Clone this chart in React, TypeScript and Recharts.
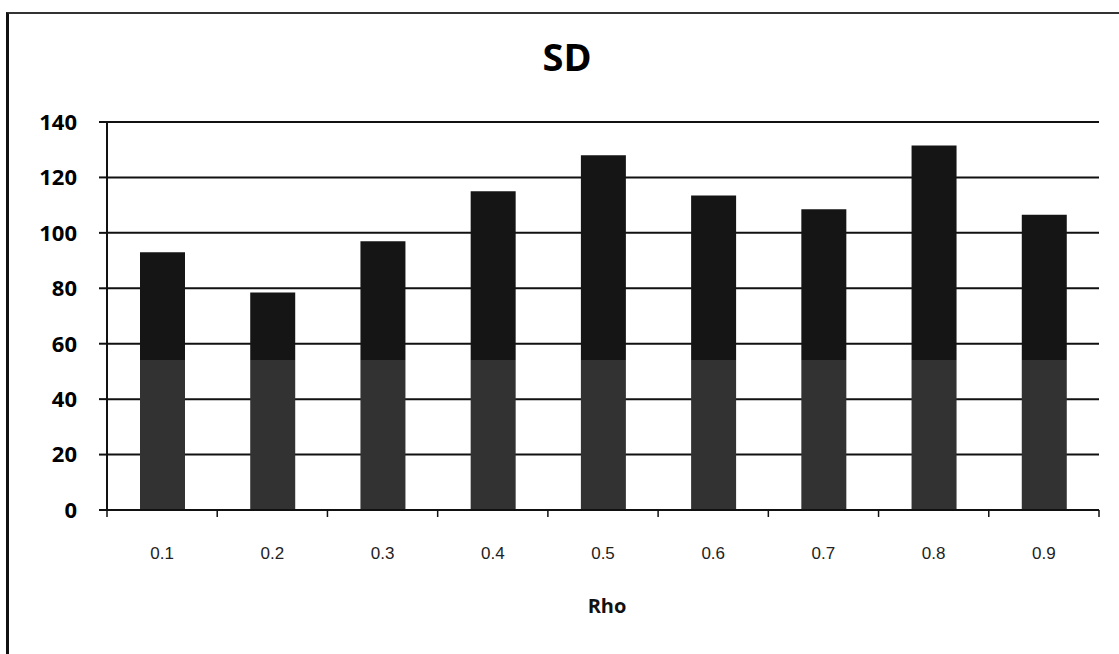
import React from 'react';
import { ComposedChart, Bar, XAxis, YAxis, CartesianGrid, Cell } from 'recharts';

const categories = ['0.1', '0.2', '0.3', '0.4', '0.5', '0.6', '0.7', '0.8', '0.9'];
const sdValues = [93, 78.5, 97, 115, 128, 113.5, 108.5, 131.5, 106.5];
const yTicks = [0, 20, 40, 60, 80, 100, 120, 140];
const shadeLevel = 54.2;
const chartTitle = 'SD';
const xTitle = 'Rho';

const data = categories.map((c, i) => ({ rho: c, sd: sdValues[i], pos: i + 0.5 }));
const xTicks: number[] = [];
for (let i = 0; i <= categories.length * 2; i++) xTicks.push(i * 0.5);

const DARK = '#151515';
const LIGHT = '#323232';

const XTick = (props: any) => {
  const { x, y, payload } = props;
  const v = payload.value as number;
  if (Number.isInteger(v)) {
    return <line x1={x} x2={x} y1={y} y2={y + 7} stroke="#111" strokeWidth={1.5} />;
  }
  const idx = Math.floor(v);
  return (
    <text
      x={x}
      y={y + 43}
      textAnchor="middle"
      dominantBaseline="central"
      fontFamily="'Liberation Sans', Arial, sans-serif"
      fontSize={17}
      fill="#222"
    >
      {categories[idx]}
    </text>
  );
};

export default function App() {
  return (
    <div style={{ position: 'fixed', left: 0, top: 0, width: 1119, height: 654, overflow: 'hidden', background: '#fff' }}>
      <div
        style={{
          position: 'absolute',
          left: 6,
          top: 12,
          width: 1300,
          height: 900,
          borderLeft: '3px solid #111',
          borderTop: '2px solid #333',
        }}
      />
      <div
        style={{
          position: 'absolute',
          left: 467,
          top: 37,
          width: 200,
          textAlign: 'center',
          fontFamily: "'Open Sans', sans-serif",
          fontWeight: 700,
          fontSize: 38,
          lineHeight: 1,
          color: '#000',
        }}
      >
        {chartTitle}
      </div>
      <div
        style={{
          position: 'absolute',
          left: 507,
          top: 596,
          width: 200,
          textAlign: 'center',
          fontFamily: "'Open Sans', sans-serif",
          fontWeight: 700,
          fontSize: 20,
          lineHeight: 1,
          color: '#111',
        }}
      >
        {xTitle}
      </div>
      <div style={{ position: 'absolute', left: 0, top: 0 }}>
        <ComposedChart
          width={1119}
          height={654}
          data={data}
          margin={{ top: 122, right: 20, bottom: 0, left: 0 }}
          barSize={45}
        >
          <defs>
            {sdValues.map((v, i) => {
              const f = Math.max(0, (v - shadeLevel) / v);
              return (
                <linearGradient key={i} id={`sdFill${i}`} x1="0" y1="0" x2="0" y2="1">
                  <stop offset={0} stopColor={DARK} />
                  <stop offset={f} stopColor={DARK} />
                  <stop offset={f} stopColor={LIGHT} />
                  <stop offset={1} stopColor={LIGHT} />
                </linearGradient>
              );
            })}
          </defs>
          <CartesianGrid
            xAxisId="cat"
            vertical={false}
            stroke="#111"
            strokeWidth={2}
          />
          <XAxis xAxisId="cat" dataKey="rho" type="category" hide height={0} />
          <XAxis
            xAxisId="num"
            dataKey="pos"
            type="number"
            domain={[0, categories.length]}
            ticks={xTicks}
            interval={0}
            allowDataOverflow
            height={144}
            tickSize={0}
            tickMargin={0}
            tickLine={false}
            axisLine={{ stroke: '#111', strokeWidth: 2 }}
            tick={<XTick />}
          />
          <YAxis
            domain={[0, 140]}
            ticks={yTicks}
            interval={0}
            width={107}
            tickSize={8}
            tickMargin={22}
            axisLine={{ stroke: '#111', strokeWidth: 2 }}
            tickLine={{ stroke: '#111', strokeWidth: 2 }}
            tick={{ fill: '#000', fontFamily: "'Open Sans', sans-serif", fontWeight: 700, fontSize: 22 }}
          />
          <Bar xAxisId="cat" dataKey="sd" isAnimationActive={false}>
            {data.map((_, i) => (
              <Cell key={i} fill={`url(#sdFill${i})`} />
            ))}
          </Bar>
        </ComposedChart>
      </div>
    </div>
  );
}
